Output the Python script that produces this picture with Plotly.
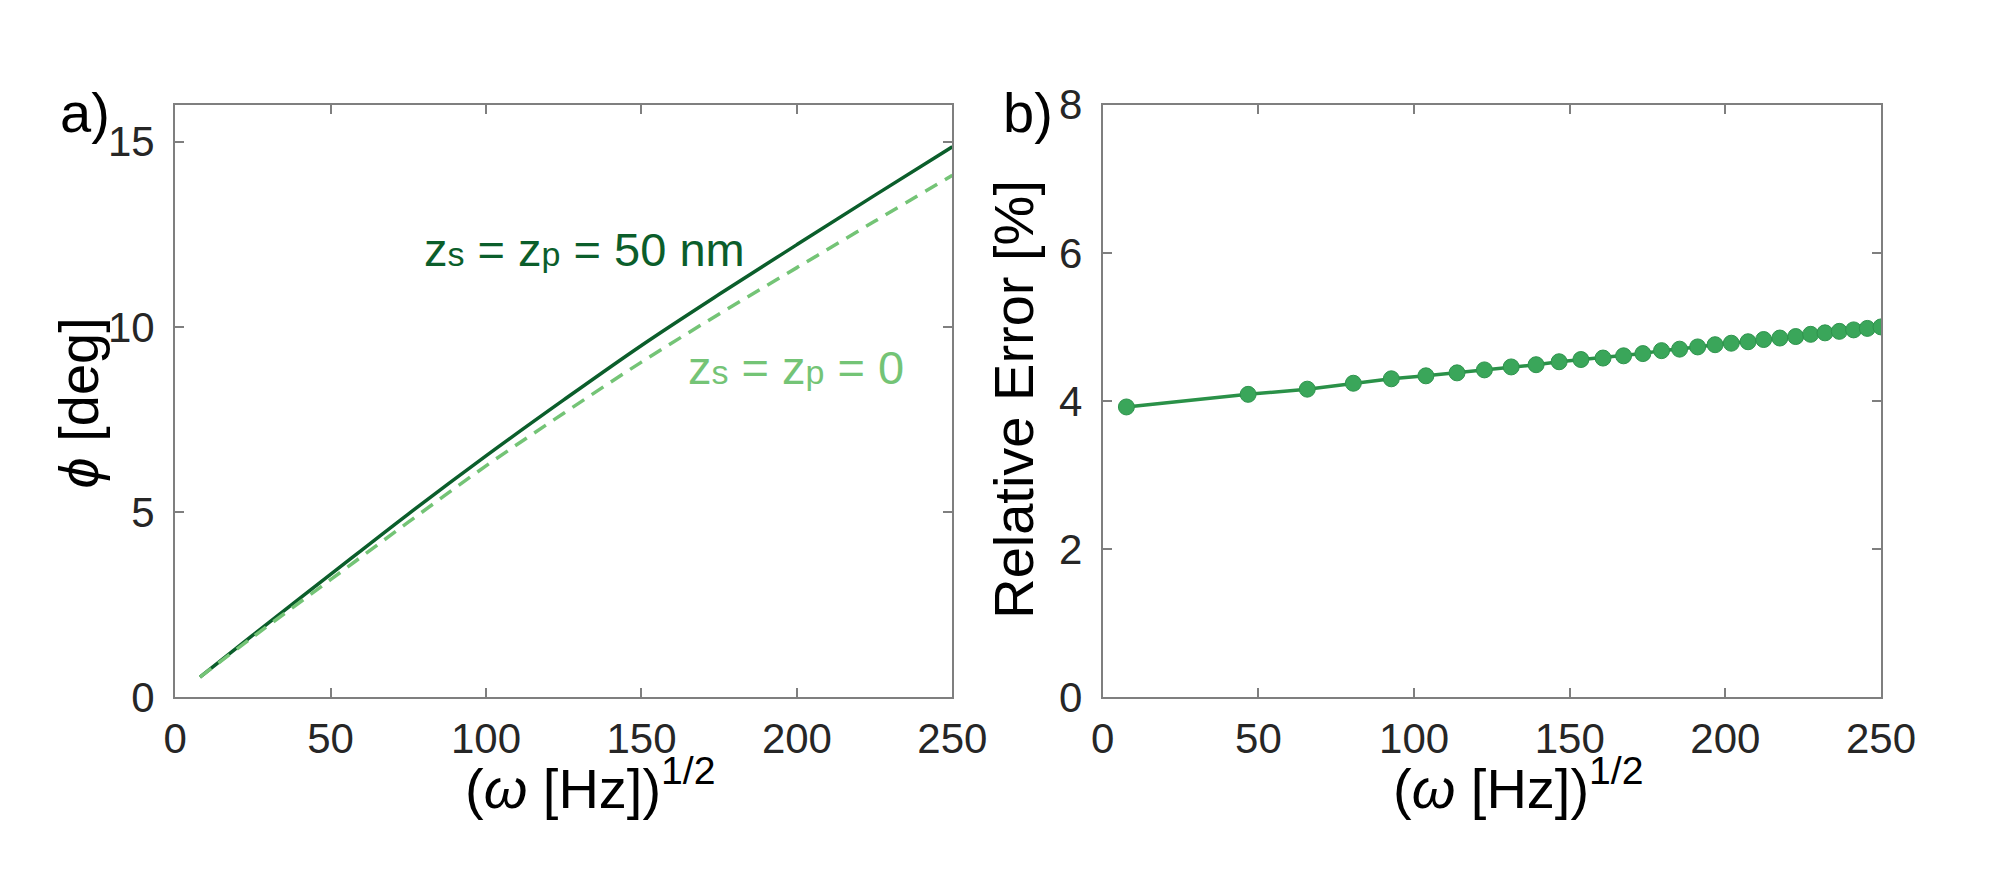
import plotly.graph_objects as go

# panel a: phase lag vs sqrt(omega)
sqrt_w_a = [8, 25, 50, 75, 100, 125, 150, 175, 200, 225, 250]
phi_50nm = [0.55, 1.68, 3.32, 4.95, 6.52, 8.03, 9.50, 10.88, 12.22, 13.55, 14.86]
phi_0nm = [0.55, 1.63, 3.18, 4.73, 6.25, 7.67, 9.05, 10.35, 11.60, 12.85, 14.09]

# panel b: relative error between the two
sqrt_w_b = [7.6, 46.7, 65.7, 80.5, 92.7, 103.8, 113.8, 122.6, 131.2, 139.2,
            146.6, 153.6, 160.7, 167.3, 173.5, 179.5, 185.3, 191.1, 196.7, 201.9,
            207.3, 212.3, 217.5, 222.6, 227.4, 232.0, 236.6, 241.2, 245.6, 250.0]
rel_err = [3.92, 4.09, 4.16, 4.24, 4.30, 4.34, 4.38, 4.42, 4.46, 4.49,
           4.53, 4.56, 4.58, 4.61, 4.64, 4.68, 4.70, 4.73, 4.76, 4.78,
           4.80, 4.83, 4.85, 4.87, 4.90, 4.92, 4.94, 4.96, 4.98, 5.00]

x_ticks = [0, 50, 100, 150, 200, 250]

DARK = "#0b5e2b"
LIGHT = "#74c476"
MID = "#3aa65a"
FONT = "Liberation Sans, Arial, Helvetica, sans-serif"
TITLE_FONT = dict(size=56, color="black", family=FONT)

fig = go.Figure()

fig.add_trace(go.Scatter(
    x=sqrt_w_a, y=phi_50nm, mode="lines", line=dict(color=DARK, width=3.5),
    line_shape="spline", xaxis="x", yaxis="y", showlegend=False))
fig.add_trace(go.Scatter(
    x=sqrt_w_a, y=phi_0nm, mode="lines",
    line=dict(color=LIGHT, width=3.5, dash="14px,9px"),
    line_shape="spline", xaxis="x", yaxis="y", showlegend=False))
fig.add_trace(go.Scatter(
    x=sqrt_w_b, y=rel_err, mode="lines+markers",
    line=dict(color="#2a9148", width=3.5),
    marker=dict(size=16, color=MID, line=dict(color="#2e944d", width=1)),
    xaxis="x2", yaxis="y2", showlegend=False))

axis_common = dict(
    showgrid=False, zeroline=False, showline=True, linecolor="#7f7f7f",
    linewidth=2, mirror="ticks", ticks="inside", ticklen=9, tickwidth=1.5,
    tickcolor="#7f7f7f", tickfont=dict(size=42, color="#262626", family=FONT),
)

fig.update_layout(
    width=2000, height=888,
    margin=dict(l=0, r=0, t=0, b=0),
    paper_bgcolor="white", plot_bgcolor="white",
    font=dict(family=FONT),
    xaxis=dict(axis_common, domain=[0.0835, 0.4815], range=[0, 250],
               tickvals=x_ticks, ticklabelstandoff=3, anchor="y"),
    yaxis=dict(axis_common, domain=[0.198, 0.903], range=[0, 16],
               tickvals=[0, 5, 10, 15], ticklabelstandoff=10, anchor="x"),
    xaxis2=dict(axis_common, domain=[0.5585, 0.957], range=[0, 250],
                tickvals=x_ticks, ticklabelstandoff=3, anchor="y2"),
    yaxis2=dict(axis_common, domain=[0.198, 0.903], range=[0, 8],
                tickvals=[0, 2, 4, 6, 8], ticklabelstandoff=10, anchor="x2"),
)

# axis titles (placed as in the reference: x title sits right of centre)
xtitle = "(<i>ω</i> [Hz])<sup>1/2</sup>"
for xa in ("x", "x2"):
    fig.add_annotation(x=133.5, y=0.095, xref=xa, yref="paper",
                       xanchor="center", yanchor="middle", showarrow=False,
                       text=xtitle, font=TITLE_FONT)
fig.add_annotation(x=0.034, y=0.548, xref="paper", yref="paper",
                   xanchor="center", yanchor="middle", textangle=-90,
                   showarrow=False, text="<i>ϕ</i> [deg]", font=TITLE_FONT)
fig.add_annotation(x=0.513, y=0.553, xref="paper", yref="paper",
                   xanchor="center", yanchor="middle", textangle=-90,
                   showarrow=False, text="Relative Error [%]", font=TITLE_FONT)

sub = '<span style="font-size:34px">{}</span>'
fig.add_annotation(x=131.7, y=12.1, xref="x", yref="y", showarrow=False,
                   xanchor="center", yanchor="middle",
                   text="z" + sub.format("s") + " = z" + sub.format("p") + " = 50 nm",
                   font=dict(size=47, color=DARK, family=FONT))
fig.add_annotation(x=199.8, y=8.9, xref="x", yref="y", showarrow=False,
                   xanchor="center", yanchor="middle",
                   text="z" + sub.format("s") + " = z" + sub.format("p") + " = 0",
                   font=dict(size=47, color=LIGHT, family=FONT))

# panel letters
for px, letter in ((0.0375, "a)"), (0.52, "b)")):
    fig.add_annotation(x=px, y=0.894, xref="paper", yref="paper",
                       xanchor="center", yanchor="middle", showarrow=False,
                       text=letter, font=dict(size=56, color="black", family=FONT))

# drop the browser's default page margin so the figure fills the window
fig.write_html("out.html", config={"displayModeBar": False},
               post_script="document.body.style.margin='0';"
                           "document.body.style.overflow='hidden';")
